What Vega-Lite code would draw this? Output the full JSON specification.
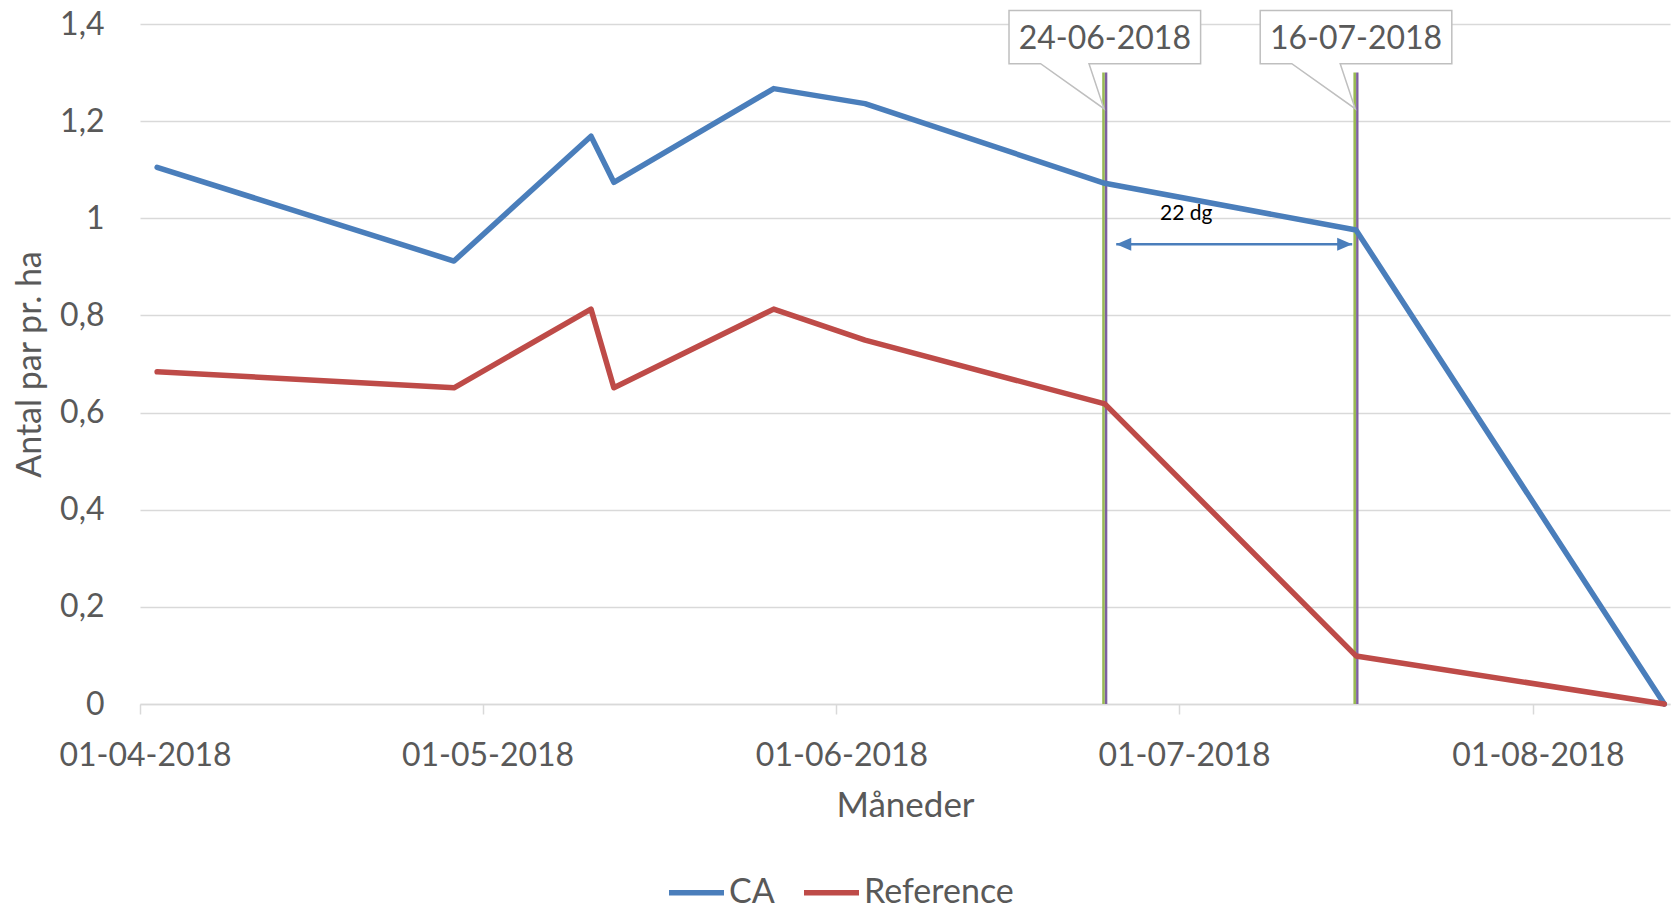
{
  "$schema": "https://vega.github.io/schema/vega-lite/v6.json",
  "width": 1530,
  "height": 680,
  "autosize": "none",
  "padding": {"left": 140, "top": 24, "right": 5, "bottom": 207},
  "background": "white",
  "config": {
    "font": "Lato",
    "view": {"stroke": null},
    "axis": {"labelFont": "Lato", "titleFont": "Lato", "labelColor": "#595959", "titleColor": "#595959", "titleFontWeight": "normal"}
  },
  "datasets": {
    "series": [
      {"date": "2018-04-02T12:00:00", "series": "CA", "value": 1.105},
      {"date": "2018-04-28T12:00:00", "series": "CA", "value": 0.912},
      {"date": "2018-05-10T12:00:00", "series": "CA", "value": 1.169},
      {"date": "2018-05-12T12:00:00", "series": "CA", "value": 1.074},
      {"date": "2018-05-26T12:00:00", "series": "CA", "value": 1.267},
      {"date": "2018-06-03T12:00:00", "series": "CA", "value": 1.236},
      {"date": "2018-06-24T12:00:00", "series": "CA", "value": 1.072},
      {"date": "2018-07-16T12:00:00", "series": "CA", "value": 0.976},
      {"date": "2018-08-12T12:00:00", "series": "CA", "value": 0},
      {"date": "2018-04-02T12:00:00", "series": "Reference", "value": 0.684},
      {"date": "2018-04-28T12:00:00", "series": "Reference", "value": 0.651},
      {"date": "2018-05-10T12:00:00", "series": "Reference", "value": 0.813},
      {"date": "2018-05-12T12:00:00", "series": "Reference", "value": 0.651},
      {"date": "2018-05-26T12:00:00", "series": "Reference", "value": 0.813},
      {"date": "2018-06-03T12:00:00", "series": "Reference", "value": 0.749},
      {"date": "2018-06-24T12:00:00", "series": "Reference", "value": 0.618},
      {"date": "2018-07-16T12:00:00", "series": "Reference", "value": 0.099},
      {"date": "2018-08-12T12:00:00", "series": "Reference", "value": 0}
    ],
    "events": [
      {"date": "2018-06-24T12:00:00", "label": "24-06-2018"},
      {"date": "2018-07-16T12:00:00", "label": "16-07-2018"}
    ]
  },
  "layer": [
    {
      "data": {"name": "events"},
      "mark": {"type": "rule", "color": "#98B954", "strokeWidth": 2.6, "xOffset": -1.3},
      "encoding": {
        "x": {"field": "date", "type": "temporal", "title": "Måneder"},
        "y": {"datum": 1.3},
        "y2": {"datum": 0}
      }
    },
    {
      "data": {"name": "events"},
      "mark": {"type": "rule", "color": "#7D60A0", "strokeWidth": 2.4, "xOffset": 1.3},
      "encoding": {
        "x": {"field": "date", "type": "temporal", "title": "Måneder"},
        "y": {"datum": 1.3},
        "y2": {"datum": 0}
      }
    },
    {
      "data": {"name": "series"},
      "mark": {"type": "line", "strokeWidth": 5.5, "strokeCap": "round", "strokeJoin": "round"},
      "encoding": {
        "x": {
          "field": "date",
          "type": "temporal",
          "title": "Måneder",
          "scale": {"domain": [{"year": 2018, "month": 4, "date": 1}, {"year": 2018, "month": 8, "date": 13}], "nice": false},
          "axis": {
            "values": [
              {"year": 2018, "month": 4, "date": 1},
              {"year": 2018, "month": 5, "date": 1},
              {"year": 2018, "month": 6, "date": 1},
              {"year": 2018, "month": 7, "date": 1},
              {"year": 2018, "month": 8, "date": 1}
            ],
            "format": "%d-%m-%Y",
            "grid": false,
            "domain": true,
            "domainColor": "#D9D9D9",
            "domainWidth": 1.5,
            "ticks": true,
            "tickColor": "#D9D9D9",
            "tickWidth": 1.5,
            "tickSize": 10,
            "labelFontSize": 32,
            "labelPadding": 26,
            "labelOffset": 5,
            "labelFlush": false,
            "labelOverlap": false,
            "labelBound": false,
            "titleFontSize": 35,
            "titleBaseline": "alphabetic",
            "titleY": 112
          }
        },
        "y": {
          "field": "value",
          "type": "quantitative",
          "title": "Antal par pr. ha",
          "scale": {"domain": [0, 1.4], "nice": false, "zero": true},
          "axis": {
            "values": [0, 0.2, 0.4, 0.6, 0.8, 1, 1.2, 1.4],
            "labelExpr": "replace(format(datum.value, '.1~f'), '.', ',')",
            "grid": true,
            "gridColor": "#D9D9D9",
            "gridWidth": 1.5,
            "domain": false,
            "ticks": false,
            "labelFontSize": 32,
            "labelPadding": 36,
            "titleFontSize": 34,
            "titleAngle": -90,
            "titleBaseline": "alphabetic",
            "titleAlign": "center",
            "titleX": -100,
            "titleY": 340
          }
        },
        "color": {
          "field": "series",
          "type": "nominal",
          "scale": {"domain": ["CA", "Reference"], "range": ["#4A7EBB", "#BE4B48"]},
          "legend": {
            "orient": "none",
            "legendX": 526,
            "legendY": 838,
            "direction": "horizontal",
            "title": null,
            "symbolType": "stroke",
            "symbolStrokeWidth": 5.5,
            "symbolSize": 3025,
            "labelFontSize": 34,
            "labelFont": "Lato",
            "labelColor": "#595959",
            "labelOffset": 2,
            "columnPadding": 18
          }
        }
      }
    },
    {
      "data": {"values": [{}]},
      "mark": {"type": "rule", "color": "#4A7EBB", "strokeWidth": 2.5},
      "encoding": {
        "x": {"datum": {"year": 2018, "month": 6, "date": 25, "hours": 12}, "type": "temporal"},
        "x2": {"datum": {"year": 2018, "month": 7, "date": 16, "hours": 4}},
        "y": {"datum": 0.9465}
      }
    },
    {
      "data": {"values": [{}]},
      "mark": {"type": "point", "shape": "M0,0L15,-6.5L15,6.5Z", "size": 4, "filled": true, "color": "#4A7EBB", "opacity": 1, "strokeWidth": 0},
      "encoding": {
        "x": {"datum": {"year": 2018, "month": 6, "date": 25, "hours": 12}, "type": "temporal"},
        "y": {"datum": 0.9465}
      }
    },
    {
      "data": {"values": [{}]},
      "mark": {"type": "point", "shape": "M0,0L-15,-6.5L-15,6.5Z", "size": 4, "filled": true, "color": "#4A7EBB", "opacity": 1, "strokeWidth": 0},
      "encoding": {
        "x": {"datum": {"year": 2018, "month": 7, "date": 16, "hours": 4}, "type": "temporal"},
        "y": {"datum": 0.9465}
      }
    },
    {
      "data": {"values": [{}]},
      "mark": {"type": "text", "text": "22 dg", "fontSize": 21, "font": "Lato", "color": "#000000", "align": "center", "baseline": "alphabetic"},
      "encoding": {
        "x": {"datum": {"year": 2018, "month": 7, "date": 1, "hours": 15}, "type": "temporal"},
        "y": {"datum": 0.997}
      }
    },
    {
      "data": {"name": "events"},
      "mark": {
        "type": "point",
        "shape": "M-95.8,-26.65H95.8V26.65H-15.8L-0.8,71.65L-64.2,26.65H-95.8Z",
        "size": 4,
        "filled": false,
        "fill": "#FFFFFF",
        "fillOpacity": 1,
        "stroke": "#BFBFBF",
        "strokeWidth": 1.5,
        "opacity": 1
      },
      "encoding": {
        "x": {"field": "date", "type": "temporal", "title": "Måneder"},
        "y": {"datum": 1.3731}
      }
    },
    {
      "data": {"name": "events"},
      "mark": {"type": "text", "fontSize": 32, "font": "Lato", "color": "#595959", "align": "center", "baseline": "alphabetic"},
      "encoding": {
        "x": {"field": "date", "type": "temporal", "title": "Måneder"},
        "y": {"datum": 1.3492},
        "text": {"field": "label"}
      }
    }
  ]
}
